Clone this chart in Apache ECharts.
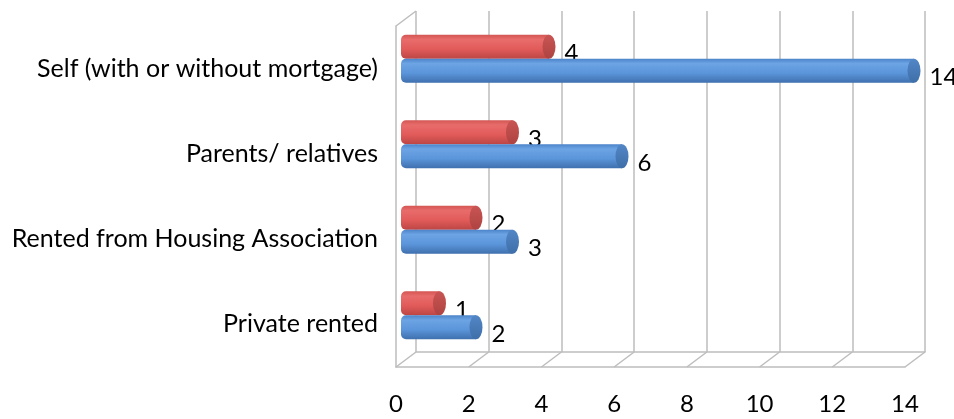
<!DOCTYPE html>
<html>
<head>
<meta charset="utf-8">
<script src="https://cdn.jsdelivr.net/npm/echarts@6/dist/echarts.min.js"></script>
<style>
  html, body { margin: 0; padding: 0; background: #fff; }
  #chart { width: 954px; height: 419px; }
</style>
</head>
<body>
<div id="chart"></div>
<script>
var categories = ['Self (with or without mortgage)', 'Parents/ relatives', 'Rented from Housing Association', 'Private rented']
var blueValues = [14, 6, 3, 2]
var redValues = [4, 3, 2, 1]
var xTicks = [0, 2, 4, 6, 8, 10, 12, 14]

// depth of the fake 3d box and bar look
var DX = 20, DY = 15
var BAR_H = 24
var CAP_RX = 6.5
var lineColor = '#BDBDBD'
var fontFamily = 'Lato'
var fontSize = 24

var redBody = ['#D35653', '#E86C6B', '#E15B5A', '#BC4644']
var blueBody = ['#4C84CA', '#6CA4E4', '#5B95DA', '#3F70AE']
var redCap = ['#C85553', '#AE4341']
var blueCap = ['#5286C6', '#3F6FA8']

function grad (c) {
  return new echarts.graphic.LinearGradient(0, 0, 0, 1, [
    { offset: 0, color: c[0] },
    { offset: 0.2, color: c[1] },
    { offset: 0.6, color: c[2] },
    { offset: 1, color: c[3] }
  ])
}

function capGrad (c) {
  return new echarts.graphic.LinearGradient(0, 0, 0, 1, [
    { offset: 0, color: c[0] },
    { offset: 1, color: c[1] }
  ])
}

// dir -1 = upper bar in the band, +1 = lower bar
function cylinder (body, cap, dir) {
  return function (params, api) {
    var v = api.value(0)
    var c = api.value(1)
    var end = api.coord([v, c])
    var start = api.coord([0, c])
    var cy = end[1] + dir * BAR_H / 2
    return {
      type: 'group',
      children: [
        {
          type: 'rect',
          shape: { x: start[0] - 2, y: cy - BAR_H / 2, width: end[0] - start[0] + 2, height: BAR_H, r: [5, 0, 0, 5] },
          style: { fill: grad(body) }
        },
        {
          type: 'circle',
          x: end[0],
          y: cy,
          scaleX: CAP_RX / (BAR_H / 2),
          shape: { cx: 0, cy: 0, r: BAR_H / 2 },
          style: { fill: capGrad(cap) }
        },
        {
          type: 'text',
          x: end[0] + CAP_RX + 9,
          y: cy + 7,
          style: {
            text: String(v),
            fill: '#000',
            fontSize: fontSize,
            fontFamily: fontFamily,
            verticalAlign: 'middle',
            align: 'left'
          }
        }
      ]
    }
  }
}

// floor diagonals + top left edge of the box
function renderFloor (params, api) {
  var v = api.value(0)
  var p = api.coord([v, 0])
  var children = [{
    type: 'line',
    shape: { x1: p[0], y1: p[1], x2: p[0] - DX, y2: p[1] + DY },
    style: { stroke: lineColor, lineWidth: 1.5 }
  }]
  if (params.dataIndex === 0) {
    var q = api.coord([0, 1])
    children.push({
      type: 'line',
      shape: { x1: q[0], y1: q[1], x2: q[0] - DX, y2: q[1] + DY },
      style: { stroke: lineColor, lineWidth: 1.5 }
    })
  }
  return { type: 'group', children: children }
}

var chart = echarts.init(document.getElementById('chart'))

var option = {
  animation: false,
  grid: [
    // back wall
    { left: 416, right: 29, top: 11, bottom: 67 },
    // front edges + labels
    { left: 416 - DX, right: 29 + DX, top: 11 + DY, bottom: 67 - DY },
    // bars (half way in depth)
    { left: 403, right: 40, top: 16, bottom: 61 }
  ],
  xAxis: [
    {
      gridIndex: 0, type: 'value', min: 0, max: 14, interval: 2,
      axisLine: { show: true, lineStyle: { color: lineColor, width: 1.5 } },
      axisTick: { show: false },
      axisLabel: { show: false },
      splitLine: { show: true, lineStyle: { color: lineColor, width: 1.5 } }
    },
    {
      gridIndex: 1, type: 'value', min: 0, max: 14, interval: 2,
      axisLine: { show: true, onZero: false, lineStyle: { color: lineColor, width: 1.5 } },
      axisTick: { show: false },
      splitLine: { show: false },
      axisLabel: { color: '#000', fontSize: fontSize, fontFamily: fontFamily, margin: 25 }
    },
    {
      gridIndex: 2, type: 'value', min: 0, max: 14, show: false
    }
  ],
  yAxis: [
    { gridIndex: 0, type: 'value', min: 0, max: 1, show: false },
    {
      gridIndex: 1, type: 'category', data: categories, inverse: true,
      axisLine: { show: true, lineStyle: { color: lineColor, width: 1.5 } },
      axisTick: { show: false },
      axisLabel: { color: '#000', fontSize: 25, fontFamily: fontFamily, margin: 18 }
    },
    {
      gridIndex: 2, type: 'category', data: categories, inverse: true, show: false
    }
  ],
  series: [
    {
      type: 'custom',
      xAxisIndex: 0, yAxisIndex: 0,
      renderItem: renderFloor,
      data: xTicks.map(function (t) { return [t] }),
      silent: true
    },
    {
      name: 'Red',
      type: 'custom',
      xAxisIndex: 2, yAxisIndex: 2,
      renderItem: cylinder(redBody, redCap, -1),
      encode: { x: 0, y: 1 },
      data: redValues.map(function (v, i) { return [v, i] }),
      z: 3
    },
    {
      name: 'Blue',
      type: 'custom',
      xAxisIndex: 2, yAxisIndex: 2,
      renderItem: cylinder(blueBody, blueCap, 1),
      encode: { x: 0, y: 1 },
      data: blueValues.map(function (v, i) { return [v, i] }),
      z: 3
    }
  ]
}

chart.setOption(option)
window.addEventListener('resize', function () { chart.resize() })
</script>
</body>
</html>
